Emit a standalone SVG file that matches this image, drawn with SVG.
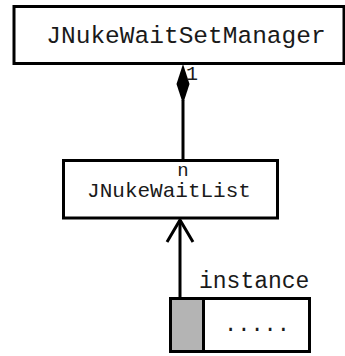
<svg xmlns="http://www.w3.org/2000/svg" width="345" height="356" viewBox="0 0 345 356">
  <style>
    .box { fill: #ffffff; stroke: #000000; stroke-width: 3; }
    .lbl { font-family: "Liberation Mono", "Courier New", monospace; fill: #1a1a1a; }
    .edge { stroke: #000000; stroke-width: 3; fill: none; }
  </style>
  <rect width="345" height="356" fill="#ffffff"/>

  <g id="JNukeWaitSetManager">
    <rect class="box" x="14" y="6.5" width="330" height="57"/>
    <text class="lbl" x="186" y="43" font-size="24.5" text-anchor="middle">JNukeWaitSetManager</text>
  </g>

  <g id="JNukeWaitList">
    <rect class="box" x="63.5" y="160.5" width="214" height="57.5"/>
    <text class="lbl" x="169" y="197" font-size="21" text-anchor="middle">JNukeWaitList</text>
  </g>

  <g id="instance">
    <text class="lbl" x="199" y="288" font-size="23">instance</text>
    <rect x="170.5" y="298.5" width="33" height="53" fill="#b4b4b4" stroke="#000000" stroke-width="3"/>
    <rect class="box" x="203.5" y="298.5" width="106" height="53"/>
    <text class="lbl" x="257" y="331" font-size="22" text-anchor="middle">.....</text>
  </g>

  <g id="connectors">
    <!-- composition: manager owns wait lists -->
    <line class="edge" x1="183" y1="100" x2="183" y2="160"/>
    <polygon points="183,64 189.5,84 183,104 176.5,84" fill="#000000"/>
    <text class="lbl" x="186" y="80" font-size="20">1</text>
    <text class="lbl" x="183" y="176" font-size="19" text-anchor="middle">n</text>
    <!-- instance-of arrow -->
    <line class="edge" x1="180" y1="298" x2="180" y2="220"/>
    <polyline class="edge" points="167,242 180,220 193,242"/>
  </g>
</svg>
